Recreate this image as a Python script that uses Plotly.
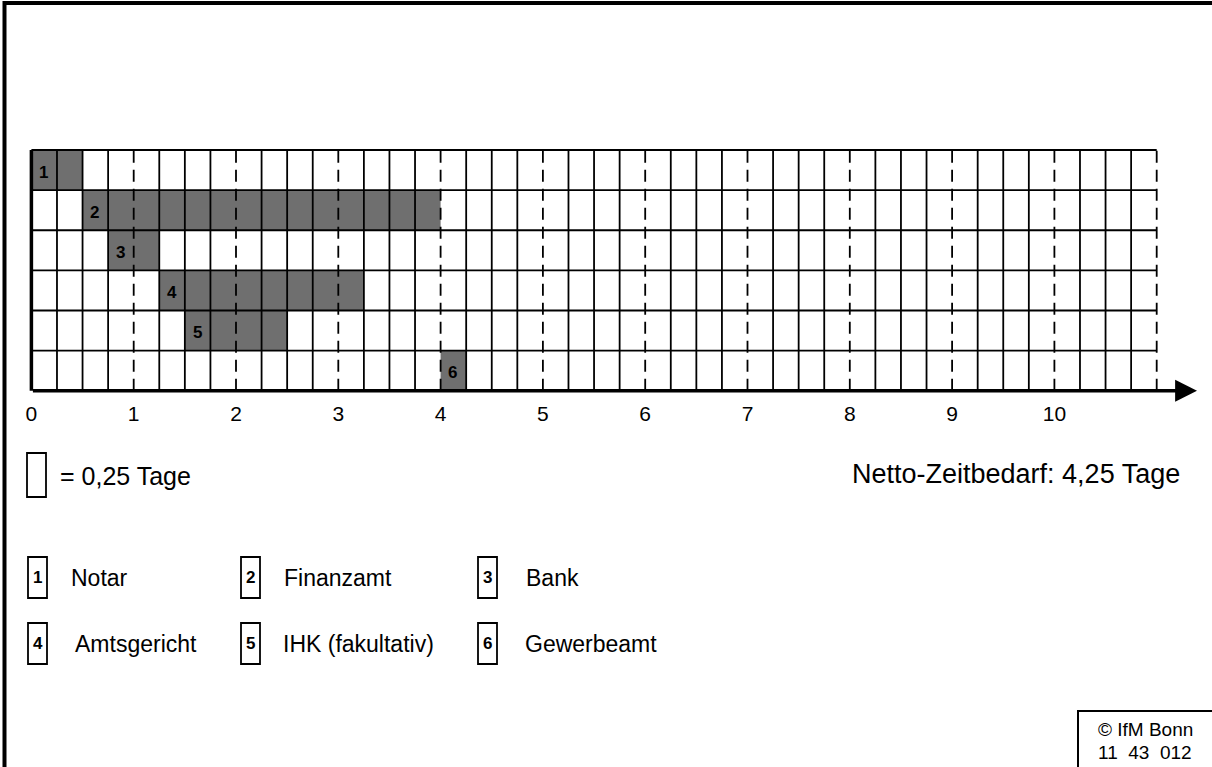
import plotly.graph_objects as go

# ---------------- data ----------------
task_ids = ["1", "2", "3", "4", "5", "6"]
task_names = ["Notar", "Finanzamt", "Bank", "Amtsgericht", "IHK (fakultativ)", "Gewerbeamt"]
task_start = [0.0, 0.5, 0.75, 1.25, 1.5, 4.0]       # Tage
task_duration = [0.5, 3.5, 0.5, 2.0, 1.0, 0.25]     # Tage
cell_size = 0.25                                    # = 0,25 Tage
total_days = 11
x_tick_vals = [0, 1, 2, 3, 4, 5, 6, 7, 8, 9, 10]
x_tick_labels = ["0", "1", "2", "3", "4", "5", "6", "7", "8", "9", "10"]
cell_label = "= 0,25 Tage"
net_label = "Netto-Zeitbedarf: 4,25 Tage"
copyright_lines = ["© IfM Bonn", "11  43  012"]

# ---------------- geometry (pixels) ----------------
W, H = 1212, 767
X0 = 31.4            # pixel of day 0
PPD = 102.3          # pixels per day
Y_TOP = 150.0
ROW_H = 40.12
n_rows = len(task_ids)
Y_BOT = Y_TOP + n_rows * ROW_H

FONT = "Liberation Sans, Arial, sans-serif"


def px(x):
    return x / W


def py(y):
    return 1 - y / H


row_centers = [n_rows - i - 0.5 for i in range(n_rows)]

fig = go.Figure()
fig.add_trace(go.Bar(
    orientation="h",
    y=row_centers,
    x=task_duration,
    base=task_start,
    width=1.0,
    marker=dict(color="#6f6f6f", line=dict(width=0)),
    hoverinfo="skip",
    showlegend=False,
))

shapes = []
# vertical grid lines (every 0.25 day, dashed at whole days)
n_cols = int(round(total_days / cell_size))
for k in range(1, n_cols + 1):
    xv = k * cell_size
    whole = (k % 4 == 0)
    shapes.append(dict(
        type="line", xref="x", yref="y", x0=xv, x1=xv, y0=0, y1=n_rows,
        line=dict(color="black", width=1.8, dash="12px,7px" if whole else "solid"),
        layer="above",
    ))
# horizontal grid lines
for r in range(1, n_rows + 1):
    shapes.append(dict(
        type="line", xref="x", yref="y", x0=0, x1=total_days, y0=r, y1=r,
        line=dict(color="black", width=2.0 if r == n_rows else 1.8),
        layer="above",
    ))
# left axis (thick)
shapes.append(dict(type="line", xref="x", yref="y", x0=0, x1=0, y0=0, y1=n_rows,
                   line=dict(color="black", width=3.5), layer="above"))

# outer frame (top and left)
shapes.append(dict(type="line", xref="paper", yref="paper", x0=px(3), x1=1,
                   y0=py(3), y1=py(3), line=dict(color="black", width=4)))
shapes.append(dict(type="line", xref="paper", yref="paper", x0=px(4.5), x1=px(4.5),
                   y0=py(1), y1=0, line=dict(color="black", width=4)))

# "= 0,25 Tage" key box
shapes.append(dict(type="rect", xref="paper", yref="paper", x0=px(27), x1=px(46),
                   y0=py(453), y1=py(497), line=dict(color="black", width=1.8),
                   fillcolor="white"))

# legend boxes
legend_cols_box = [28, 241, 478]
legend_rows = [(557, 598), (623, 664)]
legend_text_x = [[69, 282, 524], [73, 281, 523]]
annotations = []
for i, (tid, name) in enumerate(zip(task_ids, task_names)):
    r, c = divmod(i, 3)
    bx0 = legend_cols_box[c]
    by0, by1 = legend_rows[r]
    shapes.append(dict(type="rect", xref="paper", yref="paper", x0=px(bx0), x1=px(bx0 + 19),
                       y0=py(by0), y1=py(by1), line=dict(color="black", width=1.8),
                       fillcolor="white"))
    annotations.append(dict(xref="paper", yref="paper", x=px(bx0 + 9.5), y=py((by0 + by1) / 2),
                            text="<b>%s</b>" % tid, showarrow=False, xanchor="center",
                            yanchor="middle", font=dict(family=FONT, size=17, color="black")))
    annotations.append(dict(xref="paper", yref="paper", x=px(legend_text_x[r][c]),
                            y=py((by0 + by1) / 2), text=name, showarrow=False, xanchor="left",
                            yanchor="middle", font=dict(family=FONT, size=23, color="black")))

# copyright box
shapes.append(dict(type="rect", xref="paper", yref="paper", x0=px(1078), x1=px(1214),
                   y0=py(711), y1=py(770), line=dict(color="black", width=2),
                   fillcolor="white"))
annotations.append(dict(xref="paper", yref="paper", x=px(1145), y=py(729),
                        text=copyright_lines[0], showarrow=False, xanchor="center",
                        yanchor="middle", font=dict(family=FONT, size=19, color="black")))
annotations.append(dict(xref="paper", yref="paper", x=px(1145), y=py(752),
                        text=copyright_lines[1], showarrow=False, xanchor="center",
                        yanchor="middle", font=dict(family=FONT, size=19, color="black")))

# bar number labels
for tid, s, yc in zip(task_ids, task_start, row_centers):
    annotations.append(dict(xref="x", yref="y", x=s + 0.12, y=yc, yshift=-2,
                            text="<b>%s</b>" % tid, showarrow=False, xanchor="center",
                            yanchor="middle", font=dict(family=FONT, size=17, color="black")))

# key text and net time
annotations.append(dict(xref="paper", yref="paper", x=px(58), y=py(476), text=cell_label,
                        showarrow=False, xanchor="left", yanchor="middle",
                        font=dict(family=FONT, size=25, color="black")))
annotations.append(dict(xref="paper", yref="paper", x=px(1182), y=py(474), text=net_label,
                        showarrow=False, xanchor="right", yanchor="middle",
                        font=dict(family=FONT, size=27, color="black")))

# x axis with arrow
x_arrow_end = (1197 - X0) / PPD
annotations.append(dict(xref="x", yref="y", axref="x", ayref="y", x=x_arrow_end, y=0,
                        ax=0, ay=0, text="", showarrow=True, arrowhead=2, arrowsize=1.25,
                        arrowwidth=3.5, arrowcolor="black"))

fig.update_layout(
    width=W, height=H,
    margin=dict(l=0, r=0, t=0, b=0),
    paper_bgcolor="white", plot_bgcolor="white",
    showlegend=False,
    shapes=shapes,
    annotations=annotations,
    xaxis=dict(
        range=[(0 - X0) / PPD, (W - X0) / PPD],
        showgrid=False, zeroline=False, showline=False,
        tickmode="array", tickvals=x_tick_vals, ticktext=x_tick_labels,
        ticks="outside", ticklen=4, tickcolor="rgba(0,0,0,0)",
        tickfont=dict(family=FONT, size=21, color="black"),
        anchor="free", position=1 - Y_BOT / H,
        fixedrange=True,
    ),
    yaxis=dict(
        range=[(Y_BOT - H) / ROW_H, Y_BOT / ROW_H],
        showgrid=False, zeroline=False, showline=False, showticklabels=False,
        fixedrange=True,
    ),
)

fig.write_html("out.html", config={"displayModeBar": False},
               post_script="document.body.style.margin='0';document.body.style.overflow='hidden';")
